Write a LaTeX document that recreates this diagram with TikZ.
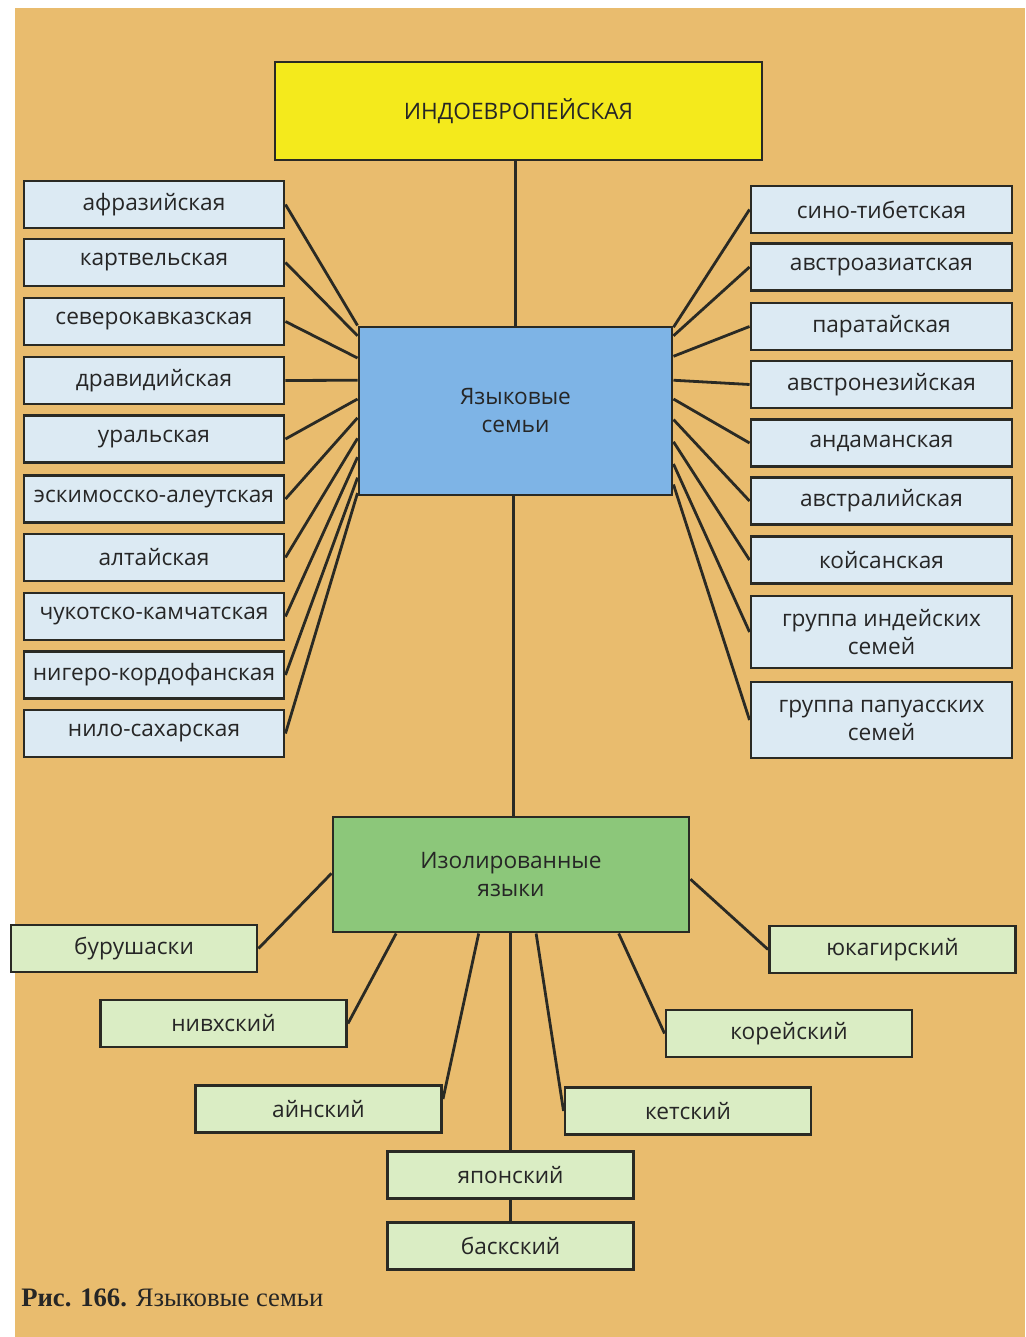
\documentclass[tikz,border=0pt]{standalone}
\usepackage{fontspec}
\setmainfont{Open Sans}
\newfontfamily\capfont{Liberation Serif}
\usetikzlibrary{calc}
\definecolor{bgc}{HTML}{E9BC6E}
\definecolor{yel}{HTML}{F4EA1C}
\definecolor{blu}{HTML}{7EB4E6}
\definecolor{grn}{HTML}{8CC77A}
\definecolor{lblu}{HTML}{DCEAF3}
\definecolor{lgrn}{HTML}{DAEDC4}
\definecolor{linec}{HTML}{2A2A24}
\definecolor{txt}{HTML}{262626}
\begin{document}
\begin{tikzpicture}[x=0.75pt,y=-0.75pt,
  box/.style={draw=linec, line width=2.2pt, inner sep=0pt, align=center, text=txt,
    font=\fontsize{17}{21}\selectfont},
  lb/.style={box, fill=lblu, minimum width=195pt, minimum height=35.25pt},
  rb/.style={box, fill=lblu, minimum width=195.75pt, minimum height=35.25pt},
  gb/.style={box, fill=lgrn, minimum width=184.5pt, minimum height=35.25pt},
  con/.style={draw=linec, line width=2.1pt}]
\useasboundingbox (0,0) rectangle (1025,1337);
\fill[white] (0,0) rectangle (1025,1337);
\fill[bgc] (15,8) rectangle (1025,1337);

% main nodes
\node[box, fill=yel, minimum width=365.25pt, minimum height=73.5pt] (top) at (518.5,111) {ИНДОЕВРОПЕЙСКАЯ};
\node[box, fill=blu, minimum width=234.75pt, minimum height=126pt] (fam) at (515.5,411) {Языковые\\семьи};
\node[box, fill=grn, minimum width=267pt, minimum height=86.25pt] (iso) at (511,874.5) {Изолированные\\языки};

% left families
\node[lb] (l1) at (154,204.5) {афразийская};
\node[lb] (l2) at (154,262.5) {картвельская};
\node[lb] (l3) at (154,321.5) {северокавказская};
\node[lb] (l4) at (154,380.5) {дравидийская};
\node[lb] (l5) at (154,439) {уральская};
\node[lb] (l6) at (154,499) {эскимосско-алеутская};
\node[lb] (l7) at (154,557.5) {алтайская};
\node[lb] (l8) at (154,616.5) {чукотско-камчатская};
\node[lb] (l9) at (154,675) {нигеро-кордофанская};
\node[lb] (l10) at (154,733.5) {нило-сахарская};

% right families
\node[rb] (r1) at (881.5,209.5) {сино-тибетская};
\node[rb] (r2) at (881.5,267) {австроазиатская};
\node[rb] (r3) at (881.5,326.5) {паратайская};
\node[rb] (r4) at (881.5,384.5) {австронезийская};
\node[rb] (r5) at (881.5,443) {андаманская};
\node[rb] (r6) at (881.5,501) {австралийская};
\node[rb] (r7) at (881.5,560) {койсанская};
\node[rb, minimum height=54pt] (r8) at (881.5,632) {группа индейских\\семей};
\node[rb, minimum height=57pt] (r9) at (881.5,720) {группа папуасских\\семей};

% isolates
\node[gb] (bur) at (134,948.5) {бурушаски};
\node[gb] (niv) at (223.5,1023.5) {нивхский};
\node[gb] (ain) at (318.5,1109) {айнский};
\node[gb] (jap) at (510.5,1175) {японский};
\node[gb] (bas) at (510.5,1246) {баскский};
\node[gb] (yuk) at (892.5,949.5) {юкагирский};
\node[gb] (kor) at (789,1033.5) {корейский};
\node[gb] (ket) at (688,1111) {кетский};

% vertical trunk
\draw[con] (fam.north |- top.south) -- (fam.north);
\draw[con] ($(fam.south)+(-2,0)$) -- ($(fam.south |- iso.north)+(-2,0)$);

% left connectors
\foreach \n/\t in {l1/0.0, l2/0.06, l3/0.19, l4/0.32, l5/0.43, l6/0.54, l7/0.66, l8/0.77, l9/0.89, l10/0.98}
  \draw[con] (\n.east) -- ($(fam.north west)!\t!(fam.south west)$);
% right connectors
\foreach \n/\t in {r1/0.01, r2/0.06, r3/0.18, r4/0.32, r5/0.43, r6/0.55, r7/0.68, r8/0.81, r9/0.93}
  \draw[con] (\n.west) -- ($(fam.north east)!\t!(fam.south east)$);

% isolate connectors
\draw[con] ($(iso.north west)!0.49!(iso.south west)$) -- (bur.east);
\draw[con] ($(iso.south west)!0.18!(iso.south east)$) -- (niv.east);
\draw[con] ($(iso.south west)!0.41!(iso.south east)$) -- ($(ain.north east)!0.3!(ain.south east)$);
\draw[con] (jap.north |- iso.south) -- (jap.north);
\draw[con] (jap.south) -- (bas.north);
\draw[con] ($(iso.south west)!0.57!(iso.south east)$) -- (ket.west);
\draw[con] ($(iso.south west)!0.80!(iso.south east)$) -- (kor.west);
\draw[con] ($(iso.north east)!0.54!(iso.south east)$) -- (yuk.west);

% caption
\node[anchor=base west, inner sep=0pt, text=black!85, font=\capfont\fontsize{20}{22}\selectfont] (cap) at (21,1306)
  {\textbf{Рис. 166.} Языковые семьи};
\end{tikzpicture}
\end{document}
